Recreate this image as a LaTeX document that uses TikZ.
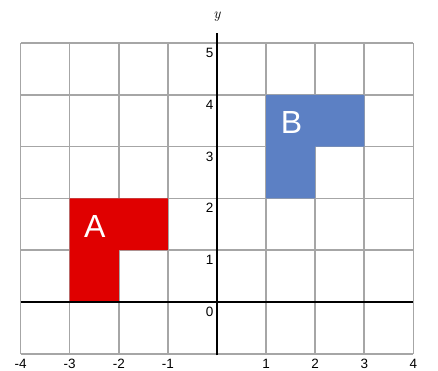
\documentclass[tikz,border=0pt]{standalone}
\usepackage{fontspec}
\setmainfont{Liberation Sans}
\begin{document}
\begin{tikzpicture}[x=49.1pt,y=51.8pt,
  gridline/.style={draw=black!35,line width=1.6pt},
  axisline/.style={draw=black,line width=1.5pt},
  ticklab/.style={font=\fontsize{13.5}{15}\selectfont,inner sep=0pt},
  shapelab/.style={font=\fontsize{32}{36}\selectfont,text=white,inner sep=0pt}]
\useasboundingbox (-4.4196,-1.332) rectangle (4.501,5.830);
\fill[fill=white] (-4.4196,-1.332) rectangle (4.501,5.830);
% grid
\draw[gridline,step={(1,1)}] (-4,-1) grid (4,5);
% shapes
\fill[fill={rgb,255:red,224;green,0;blue,0}] (-3,0) -- (-2,0) -- (-2,1) -- (-1,1) -- (-1,2) -- (-3,2) -- cycle;
\fill[fill={rgb,255:red,92;green,128;blue,196}] (1,2) -- (2,2) -- (2,3) -- (3,3) -- (3,4) -- (1,4) -- cycle;
% axes
\draw[axisline] (-4,0) -- (4,0);
\draw[axisline] (0,-1.03) -- (0,5.2);
% labels
\node[inner sep=0pt] (ylab) at (0,5.5) {\fontsize{15}{17}\fontspec{Latin Modern Roman}\itshape y};
\foreach \i in {-4,-3,-2,-1,1,2,3,4}{
  \node[ticklab] (xt\i) at (\i,-1.2) {\i};
}
\foreach \j in {0,...,5}{
  \node[ticklab,anchor=east] (yt\j) at (-0.07,\j-0.19) {\j};
}
\node[shapelab] (A) at (-2.49,1.45) {A};
\node[shapelab] (B) at (1.52,3.47) {B};
\end{tikzpicture}
\end{document}
